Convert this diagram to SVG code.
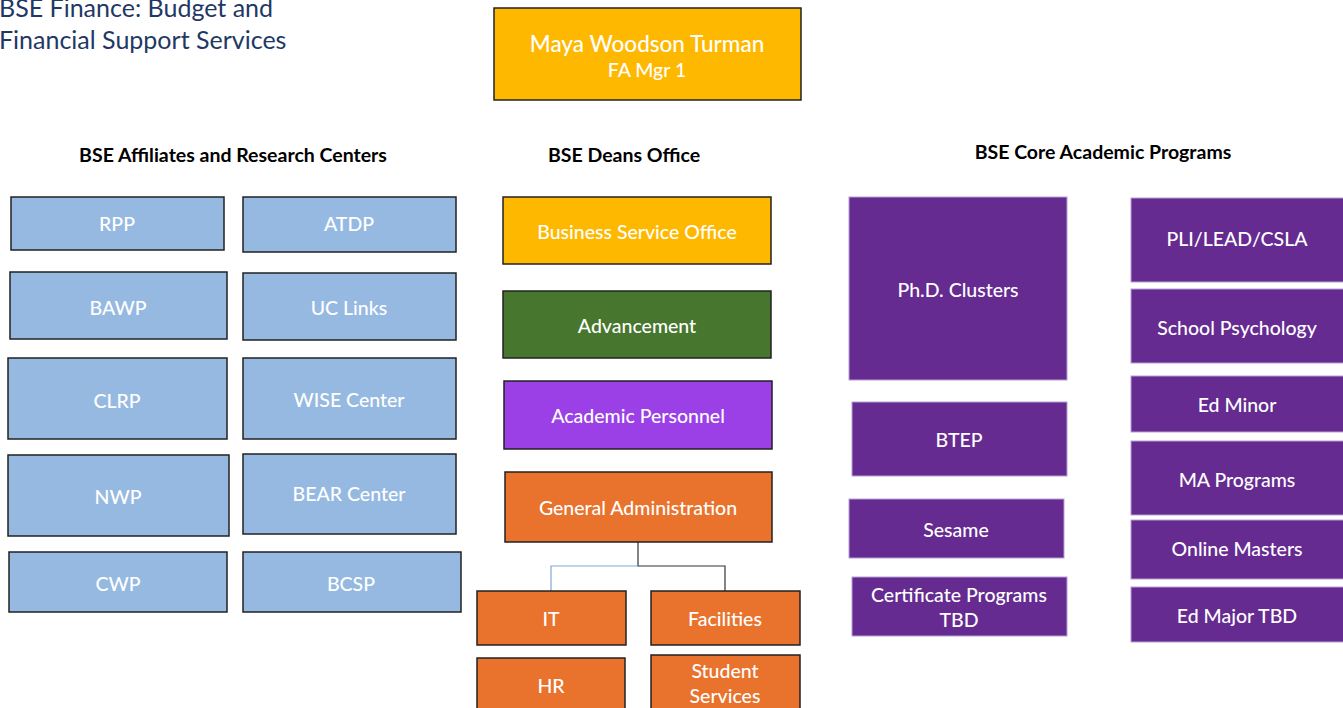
<svg xmlns="http://www.w3.org/2000/svg" width="1343" height="708" viewBox="0 0 1343 708">
<style>
text{font-family:Lato,"Open Sans","Liberation Sans",sans-serif;}
.t{fill:#fff;font-size:19.5px;font-weight:500;text-anchor:middle;dominant-baseline:central;}
.h{fill:#000;font-size:19.5px;font-weight:bold;text-anchor:middle;}
.ti{fill:#1F3864;font-size:25px;}
.blue{fill:#95B9E1;stroke:#222;stroke-width:1.5;}
.gold{fill:#FFB800;stroke:#222;stroke-width:1.5;}
.green{fill:#47762E;stroke:#222;stroke-width:1.5;}
.lav{fill:#9B3FE6;stroke:#222;stroke-width:1.5;}
.orange{fill:#E9722D;stroke:#222;stroke-width:1.5;}
.purp{fill:#652B91;stroke:#B79FD3;stroke-width:1;}
</style>
<rect width="1343" height="708" fill="#fff"/>
<text class="ti" x="-1" y="17">BSE Finance: Budget and</text>
<text class="ti" x="-1" y="49">Financial Support Services</text>
<text class="h" x="233" y="162">BSE Affiliates and Research Centers</text>
<text class="h" x="624" y="162">BSE Deans Office</text>
<text class="h" x="1103" y="159">BSE Core Academic Programs</text>

<g id="connectors" fill="none">
<path d="M638 542V566H725V591" stroke="#333" stroke-width="1.2"/>
<path d="M638 566H551V591" stroke="#7FA7D9" stroke-width="1.2"/>
</g>

<g id="maya"><rect class="gold" x="494" y="8" width="307" height="92"/><text class="t" x="647" y="43" style="font-size:22.5px">Maya Woodson Turman</text><text class="t" x="647" y="69">FA Mgr 1</text></g>

<g id="rpp"><rect class="blue" x="11" y="197" width="213" height="53"/><text class="t" x="117" y="223">RPP</text></g>
<g id="atdp"><rect class="blue" x="243" y="197" width="213" height="55"/><text class="t" x="349" y="223">ATDP</text></g>
<g id="bawp"><rect class="blue" x="10" y="272" width="217" height="67"/><text class="t" x="118" y="307">BAWP</text></g>
<g id="uclinks"><rect class="blue" x="243" y="273" width="213" height="67"/><text class="t" x="349" y="307">UC Links</text></g>
<g id="clrp"><rect class="blue" x="8" y="358" width="219" height="81"/><text class="t" x="117" y="400">CLRP</text></g>
<g id="wise"><rect class="blue" x="243" y="358" width="213" height="81"/><text class="t" x="349" y="399">WISE Center</text></g>
<g id="nwp"><rect class="blue" x="8" y="455" width="221" height="81"/><text class="t" x="118" y="496">NWP</text></g>
<g id="bear"><rect class="blue" x="243" y="454" width="213" height="80"/><text class="t" x="349" y="493">BEAR Center</text></g>
<g id="cwp"><rect class="blue" x="9" y="552" width="218" height="60"/><text class="t" x="118" y="583">CWP</text></g>
<g id="bcsp"><rect class="blue" x="243" y="552" width="218" height="60"/><text class="t" x="351" y="583">BCSP</text></g>

<g id="bso"><rect class="gold" x="503" y="197" width="268" height="67"/><text class="t" x="637" y="231">Business Service Office</text></g>
<g id="advancement"><rect class="green" x="503" y="291" width="268" height="67"/><text class="t" x="637" y="325">Advancement</text></g>
<g id="acadpers"><rect class="lav" x="504" y="381" width="268" height="68"/><text class="t" x="638" y="415">Academic Personnel</text></g>
<g id="genadmin"><rect class="orange" x="505" y="472" width="267" height="70"/><text class="t" x="638" y="507">General Administration</text></g>
<g id="it"><rect class="orange" x="477" y="591" width="149" height="54"/><text class="t" x="551" y="618">IT</text></g>
<g id="facilities"><rect class="orange" x="651" y="591" width="149" height="54"/><text class="t" x="725" y="618">Facilities</text></g>
<g id="hr"><rect class="orange" x="477" y="658" width="148" height="60"/><text class="t" x="551" y="685">HR</text></g>
<g id="student"><rect class="orange" x="651" y="655" width="149" height="63"/><text class="t" x="725" y="670">Student</text><text class="t" x="725" y="695">Services</text></g>

<g id="phd"><rect class="purp" x="849" y="197" width="218" height="183"/><text class="t" x="958" y="289">Ph.D. Clusters</text></g>
<g id="btep"><rect class="purp" x="852" y="402" width="215" height="74"/><text class="t" x="959" y="439">BTEP</text></g>
<g id="sesame"><rect class="purp" x="849" y="499" width="215" height="59"/><text class="t" x="956" y="529">Sesame</text></g>
<g id="cert"><rect class="purp" x="852" y="577" width="215" height="59"/><text class="t" x="959" y="594">Certificate Programs</text><text class="t" x="959" y="619">TBD</text></g>
<g id="pli"><rect class="purp" x="1131" y="198" width="215" height="84"/><text class="t" x="1237" y="238">PLI/LEAD/CSLA</text></g>
<g id="schoolpsych"><rect class="purp" x="1131" y="289" width="215" height="74"/><text class="t" x="1237" y="327">School Psychology</text></g>
<g id="edminor"><rect class="purp" x="1131" y="376" width="215" height="56"/><text class="t" x="1237" y="404">Ed Minor</text></g>
<g id="ma"><rect class="purp" x="1131" y="441" width="215" height="74"/><text class="t" x="1237" y="479">MA Programs</text></g>
<g id="online"><rect class="purp" x="1131" y="520" width="215" height="59"/><text class="t" x="1237" y="548">Online Masters</text></g>
<g id="edmajor"><rect class="purp" x="1131" y="587" width="215" height="55"/><text class="t" x="1237" y="615">Ed Major TBD</text></g>
</svg>
